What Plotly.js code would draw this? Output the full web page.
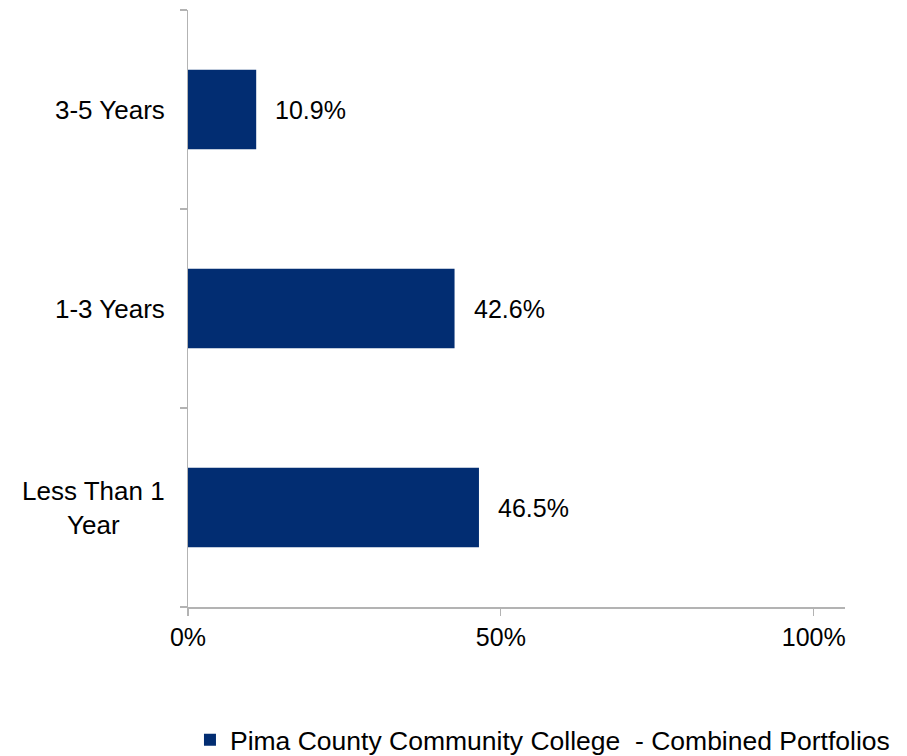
<!DOCTYPE html>
<html>
<head>
<meta charset="utf-8">
<script src="https://cdn.plot.ly/plotly-3.0.1.min.js"></script>
<style>html,body{margin:0;padding:0;background:#fff;}#chart{width:907px;height:756px;}</style>
</head>
<body>
<div id="chart"></div>
<script>
var categories = ["Less Than 1<br>Year", "1-3 Years", "3-5 Years"];
var values = [0.465, 0.426, 0.109];
var valueLabels = ["46.5%", "42.6%", "10.9%"];
var seriesName = "Pima County Community College  - Combined Portfolios";
var xTickVals = [0, 0.5, 1];
var xTickText = ["0%", "50%", "100%"];

var FONT = "Arial, 'Liberation Sans', sans-serif";
var BAR = "#022d72";
var AXIS = "#b3b3b3";

var trace = {
  type: "bar",
  orientation: "h",
  x: values,
  y: categories,
  name: seriesName,
  marker: {color: BAR},
  hoverinfo: "skip",
  showlegend: true
};

var annotations = [];
for (var i = 0; i < categories.length; i++) {
  annotations.push({
    x: values[i], y: categories[i], xref: "x", yref: "y",
    text: valueLabels[i], showarrow: false, xanchor: "left", xshift: 17,
    font: {family: FONT, size: 25, color: "#000"}
  });
  annotations.push({
    x: 0, y: categories[i], xref: "paper", yref: "y",
    text: categories[i], showarrow: false, xanchor: "right", xshift: -21,
    align: "center",
    font: {family: FONT, size: 26, color: "#000"}
  });
}

var layout = {
  width: 907, height: 756,
  margin: {l: 188, r: 62, t: 10, b: 149, autoexpand: false},
  paper_bgcolor: "#fff", plot_bgcolor: "#fff",
  font: {family: FONT, size: 24, color: "#000"},
  bargap: 0.6,
  xaxis: {
    range: [0, 1.05],
    tickvals: xTickVals, ticktext: xTickText,
    showgrid: false, zeroline: false,
    showline: true, linecolor: AXIS, linewidth: 1.5,
    ticks: "outside", ticklen: 7, tickcolor: AXIS, tickwidth: 1.2,
    tickfont: {family: FONT, size: 25, color: "#000"},
    fixedrange: true
  },
  yaxis: {
    type: "category",
    range: [-0.5, 2.5],
    showticklabels: false,
    tickson: "boundaries",
    showgrid: false, zeroline: false,
    showline: true, linecolor: AXIS, linewidth: 1.5,
    ticks: "outside", ticklen: 7, tickcolor: AXIS, tickwidth: 1.2,
    fixedrange: true
  },
  showlegend: true,
  legend: {
    orientation: "h",
    x: 0.003, xanchor: "left",
    y: -0.223, yanchor: "middle",
    font: {family: FONT, size: 26.5, color: "#000"},
    bgcolor: "rgba(0,0,0,0)"
  },
  annotations: annotations
};

Plotly.newPlot("chart", [trace], layout, {displayModeBar: false, staticPlot: true});
</script>
</body>
</html>
